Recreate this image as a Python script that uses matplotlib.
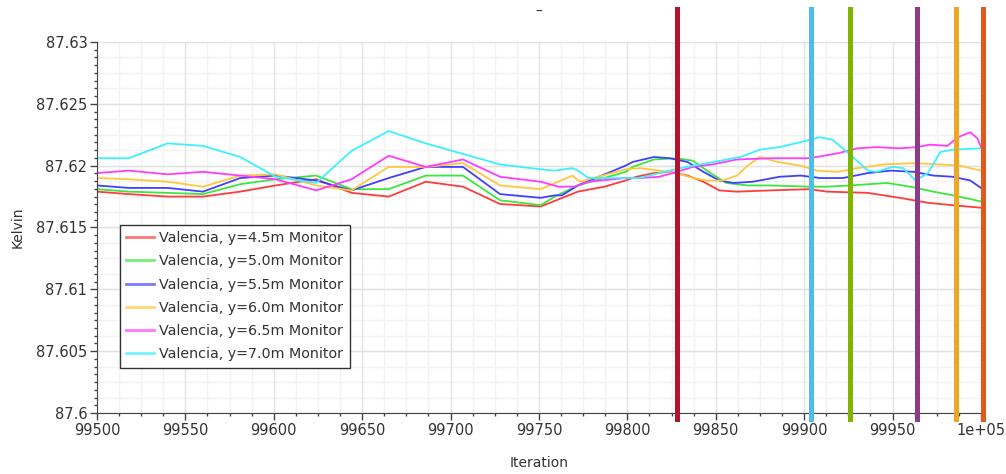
import numpy as np
import matplotlib
matplotlib.use("Agg")
import matplotlib.pyplot as plt
from matplotlib.ticker import MultipleLocator, FuncFormatter

# monitor data
it_45 = [99500, 99518, 99540, 99560, 99581, 99601, 99624, 99644, 99665, 99686, 99707, 99728, 99751, 99772, 99787,
         99799, 99805, 99815, 99824, 99834, 99843, 99852, 99862, 99881, 99903, 99913, 99936, 99954, 99970, 99984, 100000]
t_45 = [87.6179, 87.6177, 87.6175, 87.6175, 87.6179, 87.6184, 87.6189, 87.6178, 87.6175, 87.6187, 87.6183, 87.6169,
        87.6167, 87.6179, 87.6183, 87.6188, 87.6191, 87.6194, 87.6195, 87.6192, 87.6187, 87.6180, 87.6179, 87.6180,
        87.6181, 87.6179, 87.6178, 87.6174, 87.6170, 87.6168, 87.6166]

it_50 = [99500, 99518, 99540, 99560, 99581, 99601, 99624, 99644, 99665, 99686, 99707, 99728, 99751, 99759, 99772,
         99799, 99803, 99815, 99828, 99837, 99847, 99856, 99868, 99881, 99903, 99913, 99926, 99947, 99960, 99973,
         99984, 99994, 100000]
t_50 = [87.6181, 87.6179, 87.6178, 87.6177, 87.6185, 87.6189, 87.6192, 87.6181, 87.6181, 87.6192, 87.6192, 87.6172,
        87.6168, 87.6175, 87.6184, 87.6195, 87.6199, 87.6205, 87.6206, 87.6204, 87.6194, 87.6186, 87.6184, 87.6184,
        87.6183, 87.6183, 87.6184, 87.6186, 87.6183, 87.6179, 87.6176, 87.6173, 87.6171]

it_55 = [99500, 99518, 99540, 99560, 99581, 99601, 99624, 99644, 99665, 99686, 99707, 99728, 99751, 99759, 99763,
         99772, 99799, 99803, 99815, 99824, 99834, 99843, 99852, 99860, 99871, 99886, 99898, 99909, 99922, 99936,
         99949, 99962, 99973, 99984, 99994, 100000]
t_55 = [87.6184, 87.6182, 87.6182, 87.6179, 87.6190, 87.6192, 87.6188, 87.6180, 87.6190, 87.6199, 87.6199, 87.6177,
        87.6174, 87.6176, 87.6176, 87.6184, 87.6200, 87.6203, 87.6207, 87.6206, 87.6203, 87.6195, 87.6188, 87.6186,
        87.6187, 87.6191, 87.6192, 87.6190, 87.6190, 87.6194, 87.6196, 87.6195, 87.6192, 87.6191, 87.6188, 87.6182]

it_60 = [99500, 99518, 99540, 99560, 99581, 99601, 99624, 99644, 99665, 99686, 99707, 99728, 99751, 99769, 99773,
         99799, 99807, 99818, 99828, 99837, 99845, 99854, 99862, 99868, 99875, 99885, 99898, 99907, 99919, 99930,
         99945, 99962, 99977, 99988, 100000]
t_60 = [87.6190, 87.6189, 87.6187, 87.6183, 87.6192, 87.6193, 87.6184, 87.6180, 87.6199, 87.6199, 87.6202, 87.6184,
        87.6181, 87.6192, 87.6187, 87.6197, 87.6198, 87.6196, 87.6194, 87.6190, 87.6188, 87.6188, 87.6192, 87.6200,
        87.6207, 87.6203, 87.6200, 87.6196, 87.6195, 87.6198, 87.6201, 87.6202, 87.6201, 87.6200, 87.6196]

it_65 = [99500, 99518, 99540, 99560, 99581, 99601, 99624, 99644, 99665, 99686, 99707, 99728, 99751, 99761, 99770,
         99778, 99799, 99807, 99818, 99828, 99837, 99848, 99862, 99881, 99903, 99919, 99930, 99941, 99954, 99964,
         99971, 99981, 99987, 99994, 99998, 100000]
t_65 = [87.6194, 87.6196, 87.6193, 87.6195, 87.6192, 87.6189, 87.6180, 87.6189, 87.6208, 87.6199, 87.6205, 87.6191,
        87.6187, 87.6183, 87.6183, 87.6187, 87.6190, 87.6190, 87.6191, 87.6195, 87.6199, 87.6201, 87.6205, 87.6206,
        87.6206, 87.6210, 87.6214, 87.6215, 87.6214, 87.6215, 87.6217, 87.6216, 87.6223, 87.6227, 87.6222, 87.6215]

it_70 = [99500, 99518, 99540, 99560, 99581, 99601, 99624, 99644, 99665, 99686, 99728, 99751, 99759, 99769, 99772,
         99778, 99799, 99807, 99818, 99830, 99845, 99864, 99875, 99886, 99898, 99909, 99916, 99926, 99936, 99941,
         99950, 99956, 99963, 99970, 99977, 99984, 100000]
t_70 = [87.6206, 87.6206, 87.6218, 87.6216, 87.6207, 87.6191, 87.6186, 87.6212, 87.6228, 87.6218, 87.6201, 87.6197,
        87.6196, 87.6198, 87.6196, 87.6190, 87.6190, 87.6190, 87.6194, 87.6198, 87.6202, 87.6207, 87.6213, 87.6215,
        87.6219, 87.6223, 87.6221, 87.6209, 87.6196, 87.6195, 87.6199, 87.6198, 87.6188, 87.6194, 87.6211, 87.6213,
        87.6214]

labels = ["Valencia, y=4.5m Monitor", "Valencia, y=5.0m Monitor", "Valencia, y=5.5m Monitor",
          "Valencia, y=6.0m Monitor", "Valencia, y=6.5m Monitor", "Valencia, y=7.0m Monitor"]
colors = ["#ff3c3c", "#3ce63c", "#4040ff", "#ffc83c", "#ff3cff", "#3cf0ff"]

# update markers
marker_it = [99828, 99904, 99926, 99964, 99986, 100001]
marker_colors = ["#b5122e", "#4dbde9", "#80b400", "#8e3a8a", "#eba923", "#e05a1e"]

series = [(it_45, t_45), (it_50, t_50), (it_55, t_55), (it_60, t_60), (it_65, t_65), (it_70, t_70)]

text_col = "#333333"
plt.rcParams["font.family"] = "DejaVu Sans"

fig = plt.figure(figsize=(10.06, 4.74), dpi=100)
ax = fig.add_axes([0.0964, 0.1287, 0.8787, 0.7827])

for (x, y), lab, c in zip(series, labels, colors):
    ax.plot(x, y, color=c, lw=1.3, label=lab, solid_joinstyle="round")

for xv, c in zip(marker_it, marker_colors):
    ax.axvline(xv, ymin=-0.016, ymax=1.09, color=c, lw=3.6, clip_on=False, zorder=5)

ax.set_xlim(99500, 100000)
ax.set_ylim(87.6, 87.63)

ax.xaxis.set_major_locator(MultipleLocator(50))
ax.xaxis.set_minor_locator(MultipleLocator(12.5))
ax.yaxis.set_major_locator(MultipleLocator(0.005))
ax.yaxis.set_minor_locator(MultipleLocator(0.000625))

ax.xaxis.set_major_formatter(FuncFormatter(lambda v, p: "1e+05" if v >= 100000 else f"{int(round(v))}"))
ax.yaxis.set_major_formatter(FuncFormatter(lambda v, p: f"{v:.3f}".rstrip("0").rstrip(".")))

ax.grid(which="major", color="#e2e2e2", lw=1.0)
ax.grid(which="minor", axis="x", color="#f2f2f2", lw=1.0)
for yv in np.arange(87.6, 87.63, 0.00125):
    ax.axhline(yv, color="#f2f2f2", lw=1.0, zorder=0)
ax.set_axisbelow(True)

for s in ["top", "right"]:
    ax.spines[s].set_visible(False)
for s in ["left", "bottom"]:
    ax.spines[s].set_color("#444444")

ax.tick_params(which="major", direction="out", length=5, width=1, colors="#444444",
               labelcolor=text_col, labelsize=10.5, pad=2)
ax.tick_params(which="minor", direction="out", length=2.5, width=1, colors="#444444")

ax.set_xlabel("Iteration", color=text_col, fontsize=10, labelpad=13)
ax.set_ylabel("Kelvin", color=text_col, fontsize=10, labelpad=8)

fig.text(0.536, 0.975, "\u2013", ha="center", va="center", color=text_col, fontsize=10)

leg = ax.legend(loc="upper left", bbox_to_anchor=(0.026, 0.507), borderaxespad=0, fontsize=10.3,
                handlelength=1.9, handletextpad=0.4, labelspacing=0.64, fancybox=False,
                framealpha=1, edgecolor="#333333", borderpad=0.45)
leg.get_frame().set_linewidth(1.0)
for t in leg.get_texts():
    t.set_color(text_col)
for h in leg.get_lines():
    h.set_alpha(0.7)
    h.set_linewidth(2)

fig.savefig("out.png", dpi=100)
